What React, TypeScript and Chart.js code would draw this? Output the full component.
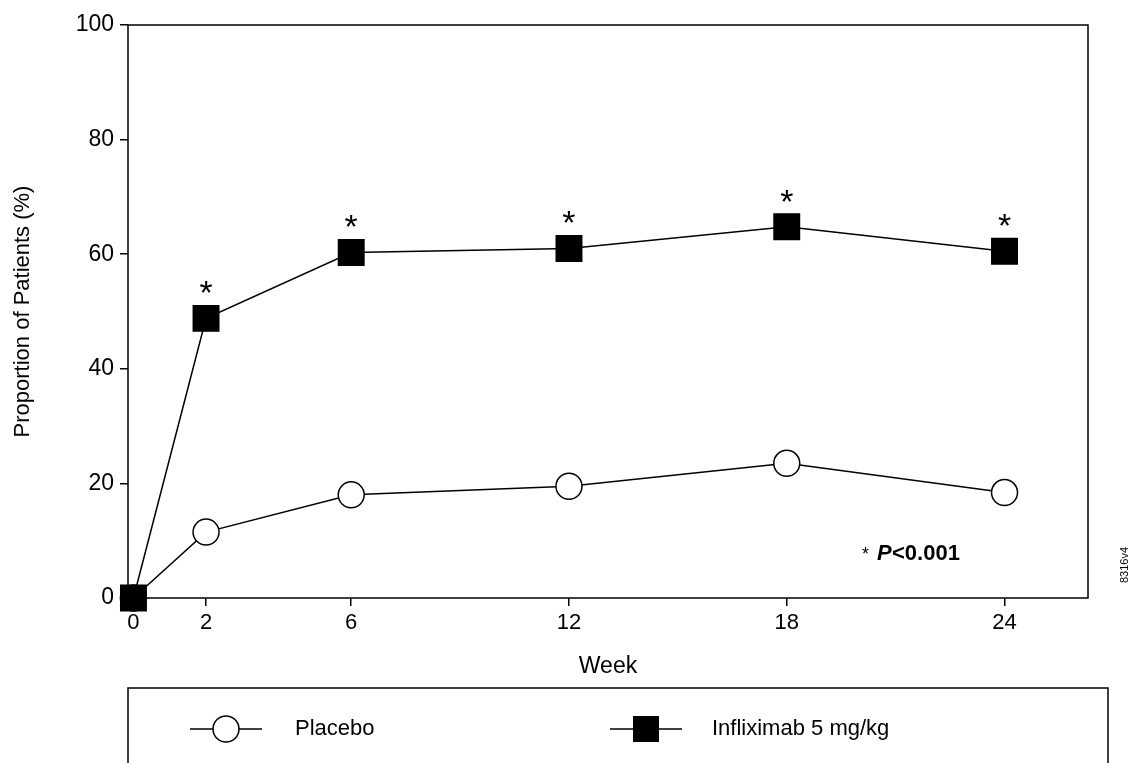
import { useEffect, useRef } from "react";
import { Chart, registerables } from "chart.js";

Chart.register(...registerables);

const weeks = [0, 2, 6, 12, 18, 24];
const placebo = [0, 11.5, 18, 19.5, 23.5, 18.4];
const infliximab = [0, 48.8, 60.3, 61, 64.8, 60.5];
const starWeeks = [2, 6, 12, 18, 24];
const yTicks = [0, 20, 40, 60, 80, 100];

const FONT = "Liberation Sans, Arial, sans-serif";

const framePlugin = {
  id: "frame",
  afterDraw(chart: Chart) {
    const { ctx, chartArea: a, scales } = chart;
    const x = scales.x;
    const y = scales.y;
    ctx.save();
    ctx.strokeStyle = "#000";
    ctx.lineWidth = 1.5;
    ctx.strokeRect(a.left, a.top, a.right - a.left, a.bottom - a.top);

    // significance stars
    ctx.fillStyle = "#000";
    ctx.font = `34px ${FONT}`;
    ctx.textAlign = "center";
    ctx.textBaseline = "alphabetic";
    starWeeks.forEach((w) => {
      const i = weeks.indexOf(w);
      ctx.fillText("*", x.getPixelForValue(w), y.getPixelForValue(infliximab[i]) - 14);
    });

    // p-value note
    ctx.font = `18px ${FONT}`;
    ctx.textAlign = "left";
    ctx.fillText("*", 862, 560);
    ctx.font = `bold italic 22px ${FONT}`;
    ctx.fillText("P", 877, 560);
    ctx.font = `bold 22px ${FONT}`;
    ctx.fillText("<0.001", 892, 560);

    // side code
    ctx.save();
    ctx.translate(1128, 565);
    ctx.rotate(-Math.PI / 2);
    ctx.font = `11px ${FONT}`;
    ctx.textAlign = "center";
    ctx.fillText("8316v4", 0, 0);
    ctx.restore();

    // legend box
    ctx.lineWidth = 1.5;
    ctx.strokeRect(128, 688, 980, 90);
    const ly = 729;
    ctx.beginPath();
    ctx.moveTo(190, ly);
    ctx.lineTo(262, ly);
    ctx.moveTo(610, ly);
    ctx.lineTo(682, ly);
    ctx.stroke();
    ctx.beginPath();
    ctx.arc(226, ly, 13, 0, Math.PI * 2);
    ctx.fillStyle = "#fff";
    ctx.fill();
    ctx.stroke();
    ctx.fillStyle = "#000";
    ctx.fillRect(633, ly - 13, 26, 26);
    ctx.font = `22px ${FONT}`;
    ctx.textBaseline = "middle";
    ctx.fillText("Placebo", 295, ly);
    ctx.fillText("Infliximab 5 mg/kg", 712, ly);
    ctx.restore();
  },
};

export default function App() {
  const canvasRef = useRef<HTMLCanvasElement>(null);

  useEffect(() => {
    document.body.style.margin = "0";
    if (!canvasRef.current) return;
    const chart = new Chart(canvasRef.current, {
      type: "line",
      data: {
        datasets: [
          {
            label: "Infliximab 5 mg/kg",
            data: weeks.map((w, i) => ({ x: w, y: infliximab[i] })),
            borderColor: "#000",
            borderWidth: 1.5,
            pointStyle: "rect",
            pointRadius: 18,
            pointBackgroundColor: "#000",
            pointBorderColor: "#000",
            clip: false,
          },
          {
            label: "Placebo",
            data: weeks.map((w, i) => ({ x: w, y: placebo[i] })),
            borderColor: "#000",
            borderWidth: 1.5,
            pointStyle: "circle",
            pointRadius: 13,
            pointBackgroundColor: "#fff",
            pointBorderColor: "#000",
            pointBorderWidth: 1.5,
            clip: false,
          },
        ],
      },
      options: {
        responsive: false,
        animation: false,
        layout: { padding: { top: 25, right: 40, bottom: 83, left: 10 } },
        plugins: { legend: { display: false }, tooltip: { enabled: false } },
        scales: {
          x: {
            type: "linear",
            min: -0.15,
            max: 26.3,
            afterBuildTicks: (s: any) => {
              s.ticks = weeks.map((v) => ({ value: v }));
            },
            afterFit: (s: any) => {
              s.height = 82;
            },
            grid: { drawOnChartArea: false, color: "#000", tickLength: 8, lineWidth: 1.5 },
            border: { display: false },
            ticks: { color: "#000", font: { family: FONT, size: 22 }, padding: 4 },
            title: { display: true, text: "Week", color: "#000", font: { family: FONT, size: 23 }, padding: 0 },
          },
          y: {
            min: 0,
            max: 100,
            afterBuildTicks: (s: any) => {
              s.ticks = yTicks.map((v) => ({ value: v }));
            },
            afterFit: (s: any) => {
              s.width = 118;
            },
            grid: { drawOnChartArea: false, color: "#000", tickLength: 8, lineWidth: 1.5 },
            border: { display: false },
            ticks: { color: "#000", font: { family: FONT, size: 23 }, padding: 6 },
            title: {
              display: true,
              text: "Proportion of Patients (%)",
              color: "#000",
              font: { family: FONT, size: 22 },
              padding: 0,
            },
          },
        },
      },
      plugins: [framePlugin],
    } as any);
    return () => chart.destroy();
  }, []);

  return <canvas ref={canvasRef} width={1128} height={763} style={{ display: "block" }} />;
}
